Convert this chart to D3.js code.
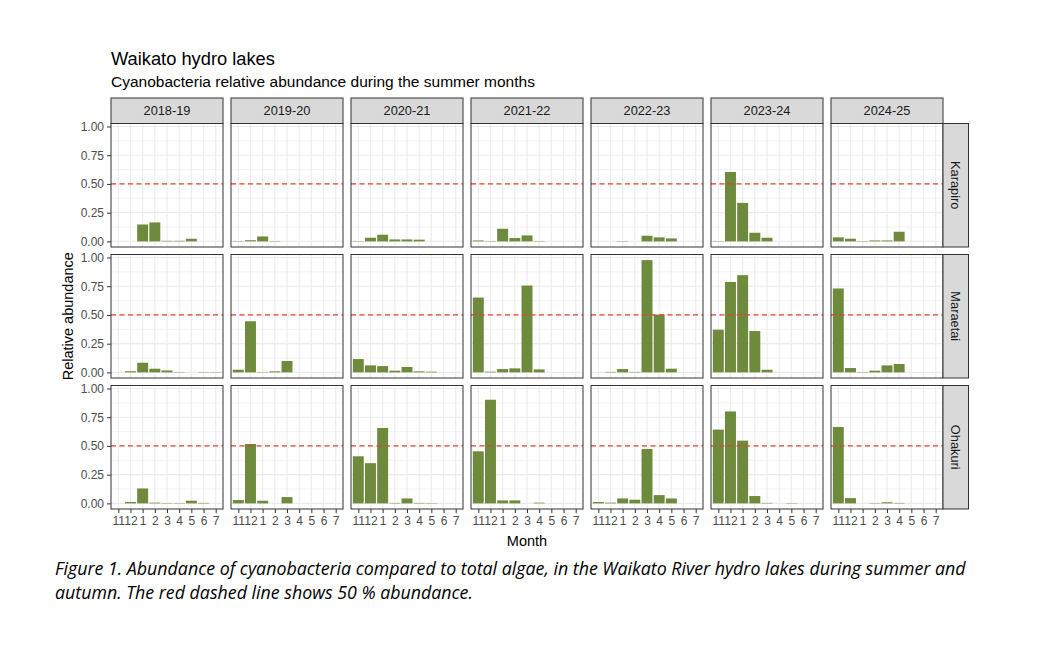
<!DOCTYPE html>
<html>
<head>
<meta charset="utf-8">
<script src="https://cdn.jsdelivr.net/npm/d3@7"></script>
<style>
  body { margin: 0; background: #fff; }
  svg text { font-family: "Liberation Sans", Arial, sans-serif; }
</style>
</head>
<body>
<svg id="chart" width="1050" height="656"></svg>
<script>
// facets and months
const seasons = ["2018-19", "2019-20", "2020-21", "2021-22", "2022-23", "2023-24", "2024-25"];
const lakes = ["Karapiro", "Maraetai", "Ohakuri"];
const months = ["11", "12", "1", "2", "3", "4", "5", "6", "7"];

// relative abundance, one row per season, one value per month (null = no sample)
const karapiro = [
    [null, null, 0.147, 0.165, 0.005, 0.005, 0.023, null, null],
    [0.003, 0.010, 0.043, 0.003, null, null, null, null, null],
    [0.003, 0.032, 0.058, 0.017, 0.017, 0.015, null, null, null],
    [0.008, 0.003, 0.110, 0.029, 0.052, 0.003, null, null, null],
    [null, null, 0.003, null, 0.049, 0.035, 0.026, null, null],
    [0.003, 0.604, 0.335, 0.075, 0.032, null, null, null, null],
    [0.035, 0.023, 0.003, 0.008, 0.008, 0.084, null, null, null]
];
const maraetai = [
    [null, 0.010, 0.084, 0.032, 0.017, 0.003, null, 0.003, 0.003],
    [0.023, 0.445, 0.003, 0.009, 0.099, null, null, null, null],
    [0.116, 0.061, 0.055, 0.015, 0.047, 0.009, 0.006, null, null],
    [0.651, 0.006, 0.029, 0.035, 0.756, 0.026, null, null, null],
    [null, 0.004, 0.029, 0.004, 0.977, 0.503, 0.032, null, null],
    [0.372, 0.787, 0.846, 0.360, 0.023, null, null, null, null],
    [0.730, 0.038, 0.003, 0.015, 0.061, 0.073, null, null, null]
];
const ohakuri = [
    [null, 0.012, 0.130, 0.006, 0.003, 0.003, 0.023, 0.004, null],
    [0.029, 0.517, 0.023, null, 0.055, null, null, null, null],
    [0.410, 0.350, 0.656, 0.004, 0.043, 0.004, 0.003, null, null],
    [0.453, 0.902, 0.026, 0.026, null, 0.006, null, null, null],
    [0.012, 0.006, 0.043, 0.032, 0.474, 0.072, 0.043, null, null],
    [0.642, 0.800, 0.546, 0.064, 0.004, null, 0.003, null, null],
    [0.665, 0.046, null, 0.003, 0.010, 0.004, null, null, null]
];
const lakeValues = [karapiro, maraetai, ohakuri];

const yTicks = [0, 0.25, 0.5, 0.75, 1];
const threshold = 0.5;

// panel layout
const panelLeft = 111;
const panelTop = 123.5;
const panelW = 112;
const panelH = 123.5;
const gapX = 8;
const gapY = 7.5;
const stripSize = 25.5;

const font = "'Liberation Sans', Arial, sans-serif";
const barColor = "#6e8b3d";
const dark = "#333333";

const svg = d3.select("#chart");

// scales (shared across panels, like facet_grid with fixed scales)
const x = d3
    .scalePoint()
    .domain(months)
    .range([0, panelW])
    .padding(0.6);
const barW = x.step() * 0.9;

const yMax = d3.max(lakeValues.flat(2));
const y = d3
    .scaleLinear()
    .domain([-0.05 * yMax, 1.05 * yMax])
    .range([panelH, 0]);

const minorTicks = d3.pairs(yTicks).map(p => (p[0] + p[1]) / 2);

// titles
svg.append("text")
    .attr("x", panelLeft)
    .attr("y", 65)
    .style("font-size", "18.3px")
    .attr("fill", "#000")
    .text("Waikato hydro lakes");

svg.append("text")
    .attr("x", panelLeft)
    .attr("y", 87)
    .style("font-size", "15.5px")
    .attr("fill", "#000")
    .text("Cyanobacteria relative abundance during the summer months");

function styleAxis(ax) {
    ax.attr("font-family", font);
    ax.select(".domain").remove();
    ax.selectAll("line").attr("stroke", dark);
    ax.selectAll("text").attr("fill", "#4d4d4d").style("font-size", "12px");
}

lakes.forEach((lake, r) => {
    seasons.forEach((season, c) => {
        const px = panelLeft + c * (panelW + gapX);
        const py = panelTop + r * (panelH + gapY);
        const g = svg.append("g").attr("transform", `translate(${px},${py})`);
        const values = lakeValues[r][c].map((v, i) => ({ month: months[i], value: v }))
            .filter(d => d.value !== null);

        g.append("rect")
            .attr("width", panelW)
            .attr("height", panelH)
            .attr("fill", "#fff");

        // grid
        g.selectAll(".minor")
            .data(minorTicks)
            .join("line")
            .attr("x1", 0).attr("x2", panelW)
            .attr("y1", d => y(d)).attr("y2", d => y(d))
            .attr("stroke", "#ebebeb")
            .attr("stroke-width", 0.6);

        g.selectAll(".hmajor")
            .data(yTicks)
            .join("line")
            .attr("x1", 0).attr("x2", panelW)
            .attr("y1", d => y(d)).attr("y2", d => y(d))
            .attr("stroke", "#ebebeb")
            .attr("stroke-width", 1.1);

        g.selectAll(".vmajor")
            .data(months)
            .join("line")
            .attr("x1", d => x(d)).attr("x2", d => x(d))
            .attr("y1", 0).attr("y2", panelH)
            .attr("stroke", "#ebebeb")
            .attr("stroke-width", 1.1);

        // bars
        g.selectAll(".bar")
            .data(values)
            .join("rect")
            .attr("x", d => x(d.month) - barW / 2)
            .attr("y", d => y(d.value))
            .attr("width", barW)
            .attr("height", d => y(0) - y(d.value))
            .attr("fill", barColor);

        // 50 % line
        g.append("line")
            .attr("x1", 0).attr("x2", panelW)
            .attr("y1", y(threshold)).attr("y2", y(threshold))
            .attr("stroke", "#e0442e")
            .attr("stroke-width", 1.2)
            .attr("stroke-dasharray", "5,3.5");

        g.append("rect")
            .attr("width", panelW)
            .attr("height", panelH)
            .attr("fill", "none")
            .attr("stroke", dark)
            .attr("stroke-width", 1);

        // axes on the outer panels only
        if (c === 0) {
            g.append("g")
                .call(d3.axisLeft(y).tickValues(yTicks).tickFormat(d3.format(".2f")).tickSize(4).tickPadding(3))
                .call(styleAxis);
        }
        if (r === lakes.length - 1) {
            g.append("g")
                .attr("transform", `translate(0,${panelH})`)
                .call(d3.axisBottom(x).tickSize(4).tickPadding(3))
                .call(styleAxis);
        }

        // column strips
        if (r === 0) {
            svg.append("rect")
                .attr("x", px).attr("y", panelTop - stripSize)
                .attr("width", panelW).attr("height", stripSize)
                .attr("fill", "#d9d9d9")
                .attr("stroke", dark);
            svg.append("text")
                .attr("x", px + panelW / 2)
                .attr("y", panelTop - stripSize / 2)
                .attr("dy", "0.35em")
                .attr("text-anchor", "middle")
                .style("font-size", "12.8px")
                .attr("fill", "#1a1a1a")
                .text(season);
        }
        // row strips
        if (c === seasons.length - 1) {
            const sx = px + panelW;
            svg.append("rect")
                .attr("x", sx).attr("y", py)
                .attr("width", stripSize).attr("height", panelH)
                .attr("fill", "#d9d9d9")
                .attr("stroke", dark);
            svg.append("text")
                .attr("transform", `translate(${sx + stripSize / 2},${py + panelH / 2}) rotate(90)`)
                .attr("dy", "0.35em")
                .attr("text-anchor", "middle")
                .style("font-size", "12.8px")
                .attr("fill", "#1a1a1a")
                .text(lake);
        }
    });
});

// axis titles
const gridW = seasons.length * panelW + (seasons.length - 1) * gapX;
const gridH = lakes.length * panelH + (lakes.length - 1) * gapY;

svg.append("text")
    .attr("x", panelLeft + gridW / 2)
    .attr("y", panelTop + gridH + 37)
    .attr("text-anchor", "middle")
    .style("font-size", "14.5px")
    .text("Month");

svg.append("text")
    .attr("transform", "rotate(-90)")
    .attr("x", -(panelTop + gridH / 2))
    .attr("y", 73)
    .attr("text-anchor", "middle")
    .style("font-size", "14.5px")
    .text("Relative abundance");

// figure caption
const caption = svg.append("text")
    .style("font-family", "'Open Sans', sans-serif")
    .style("font-style", "italic")
    .style("font-size", "17.8px")
    .attr("fill", "#000");
caption.append("tspan")
    .attr("x", 55).attr("y", 575)
    .text("Figure 1. Abundance of cyanobacteria compared to total algae, in the Waikato River hydro lakes during summer and");
caption.append("tspan")
    .attr("x", 55).attr("y", 599)
    .text("autumn. The red dashed line shows 50 % abundance.");
</script>
</body>
</html>
